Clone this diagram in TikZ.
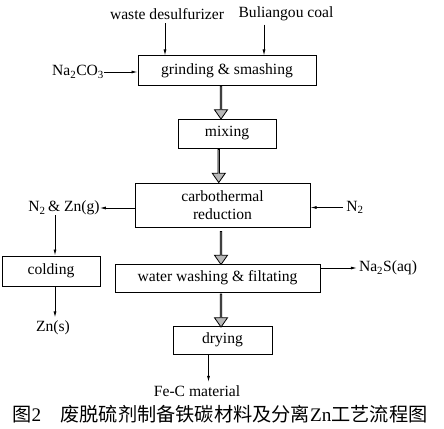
\documentclass[tikz,border=0pt]{standalone}
\usepackage{fontspec}
\setmainfont{Liberation Serif}
\newfontfamily\cjk{Noto Sans CJK SC}
\usetikzlibrary{arrows.meta,calc,shapes.arrows}
\begin{document}
\begin{tikzpicture}[x=1pt,y=-1pt,
    every node/.style={font=\fontsize{15.6}{18.5}\selectfont},
    box/.style={draw,line width=1pt,inner sep=0pt,align=center},
    arr/.style={-{Latex[length=6pt,width=3pt]},line width=0.8pt},
    fatarr/.style={single arrow,draw,line width=0.8pt,fill=black!28,
      rotate=-90,inner sep=0pt,minimum width=13pt,minimum height=33pt,
      single arrow head extend=3pt,single arrow tip angle=70}]
  \useasboundingbox (0,0) rectangle (444,428);
  \draw
    (227,70.5) node[box,minimum width=178pt,minimum height=29pt] (grind){grinding \& smashing}
    (227,133.5) node[box,minimum width=98pt,minimum height=29pt] (mix){mixing}
    (222.5,205) node[box,minimum width=175pt,minimum height=44pt] (carbo){carbothermal\\reduction}
    (51,271) node[box,minimum width=98pt,minimum height=30pt] (cold){colding}
    (217.5,278) node[box,minimum width=205pt,minimum height=28pt] (wash){water washing \& filtating}
    (222.5,340) node[box,minimum width=99pt,minimum height=28pt] (dry){drying};
  \draw
    (167,14) node (waste){waste desulfurizer}
    (286,14) node (coal){Buliangou coal}
    (78,72) node[inner sep=0pt] (naco){Na\textsubscript{2}CO\textsubscript{3}}
    (64,208) node[inner sep=0pt] (nzn){N\textsubscript{2}\,\& Zn(g)}
    (355,207.5) node[inner sep=0pt] (ntwo){N\textsubscript{2}}
    (53,328) node (zns){Zn(s)}
    (388,268) node[inner sep=0pt] (nas){Na\textsubscript{2}S(aq)}
    (197,391) node (fec){Fe-C material}
    (220,414.5) node[font=\fontsize{19.2}{21}\selectfont] (cap){{\cjk 图}2\quad{\cjk 废脱硫剂制备铁碳材料及分离}Zn{\cjk 工艺流程图}};
  \begin{scope}[arr]
    \draw ([xshift=-2pt]waste.south) to ([xshift=-2pt]waste.south |- grind.north);
    \draw ([xshift=-22pt]coal.south) to ([xshift=-22pt]coal.south |- grind.north);
    \draw (naco.east) to (grind.west |- naco.east);
    \draw (carbo.west |- nzn.east) to (nzn.east);
    \draw ([xshift=-3pt]ntwo.west) to (carbo.east |- ntwo.west);
    \draw ([xshift=4pt]cold.north |- nzn.south) to ([xshift=4pt]cold.north);
    \draw ([xshift=4pt]cold.south) to ([xshift=4pt]cold.south |- zns.north);
    \draw (wash.east |- nas.west) to ([xshift=-2pt]nas.west);
    \draw ([xshift=-14pt]dry.south) to ([xshift=-14pt]dry.south |- fec.north);
  \end{scope}
  \node[fatarr] (f1) at ($(grind.south)!.5!(mix.north)+(-6,0)$) {};
  \node[fatarr] (f2) at ($(mix.north |- mix.south)!.5!(carbo.north)+(-6,0)$) {};
  \node[fatarr] (f3) at ($(carbo.south)!.5!(carbo.south |- wash.north)+(-1.5,2)$) {};
  \node[fatarr] (f4) at ($(wash.south -| dry.north)!.5!(dry.north)+(-1.5,1)$) {};
\end{tikzpicture}
\end{document}
